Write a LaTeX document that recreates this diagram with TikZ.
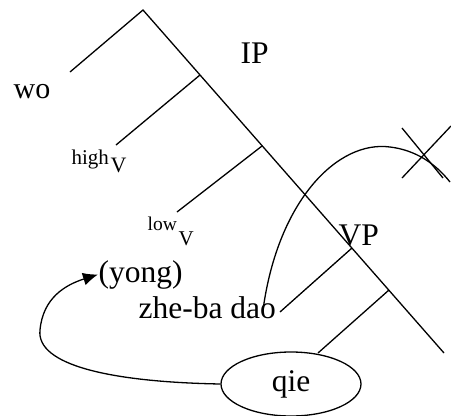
\documentclass[tikz,border=0pt]{standalone}
\usepackage{fontspec}
\setmainfont{Liberation Serif}
\usetikzlibrary{shapes.geometric,arrows.meta}
\begin{document}
\begin{tikzpicture}[x=1pt,y=-1pt,
  every path/.style={line width=1.3pt},
  lbl/.style={inner sep=0pt,anchor=base west,font=\fontsize{31.5}{33}\selectfont},
  small/.style={inner sep=0pt,anchor=base west,font=\fontsize{20}{22}\selectfont},
  branch/.style={draw=black,line width=1.3pt}]
\useasboundingbox (0,0) rectangle (451,416);
% tree points
\coordinate (apex) at (143,10);
\coordinate (leftend) at (70,72);
\coordinate (j1) at (200,75);
\coordinate (j1end) at (116,145);
\coordinate (j2) at (262,146);
\coordinate (j2end) at (177,212);
\coordinate (j3) at (352,248);
\coordinate (j3end) at (280,312);
\coordinate (j4) at (389,290);
\coordinate (j4end) at (318,353);
\coordinate (bottom) at (444,353);
\draw[branch] (leftend) -- (apex) -- (bottom);
\draw[branch] (j1) -- (j1end);
\draw[branch] (j2) -- (j2end);
\draw[branch] (j3) -- (j3end);
\draw[branch] (j4) -- (j4end);
% labels
\node[lbl,font=\fontsize{30}{32}\selectfont] (wo) at (13,98) {wo};
\node[lbl] (ip) at (240,63) {IP};
\node[small,font=\fontsize{21}{23}\selectfont] (high) at (71,164) {high};
\node[small,font=\fontsize{22}{24}\selectfont] (hv) at (110,172) {V};
\node[small,font=\fontsize{19.5}{22}\selectfont] (low) at (147,230) {low};
\node[small,font=\fontsize{21}{23}\selectfont] (lv) at (178,245) {V};
\node[lbl] (vp) at (338,245) {VP};
\node[lbl] (yong) at (98,282) {(yong)};
\node[lbl] (zhe) at (138,318) {zhe-ba dao};
\node[draw,ellipse,minimum width=140pt,minimum height=64pt,inner sep=0pt,
  font=\fontsize{31.5}{33}\selectfont] (qie) at (291,384) {qie};
% movement arrow
\coordinate (loop) at (40,330);
\draw[-{Latex[length=15pt,width=13pt]}] (qie.west) .. controls (110,382) and (36,365) .. (loop)
  .. controls (43,298) and (65,285) .. (yong.west);
% crossed-out movement
\coordinate (cstart) at (263,310);
\coordinate (cend) at (450,182);
\draw (cstart) .. controls (278,200) and (338,140) .. (390,147)
  .. controls (415,150) and (435,163) .. (cend);
\coordinate (xa) at (402,128);
\coordinate (xb) at (443,178);
\coordinate (xc) at (402,178);
\coordinate (xd) at (451,126);
\draw (xa) -- (xb);
\draw (xc) -- (xd);
\end{tikzpicture}
\end{document}
